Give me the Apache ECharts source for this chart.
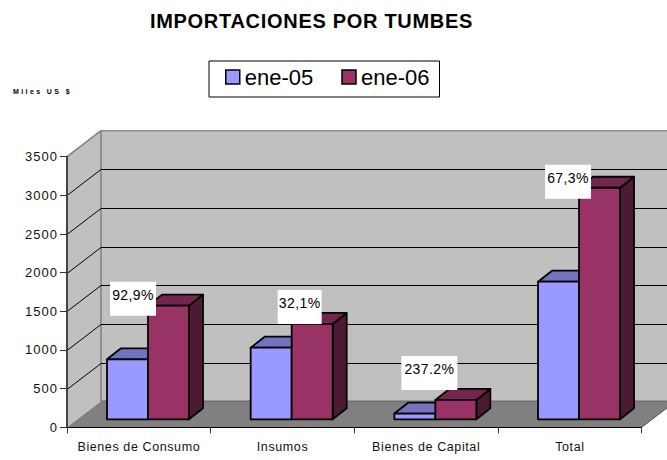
<!DOCTYPE html>
<html><head><meta charset="utf-8">
<style>html,body{margin:0;padding:0;background:#fff}#c{width:667px;height:460px}
#c text[style*="20px"]{letter-spacing:.7px}
#c text[style*="bold 7px"]{letter-spacing:2.4px}
#c text[style*=" 13px"]{letter-spacing:1px}
#c text[style*="12.5px"]{letter-spacing:.6px}
#c text[style*=" 14px"]{letter-spacing:.4px}
</style>
<script src="https://cdn.jsdelivr.net/npm/echarts@6/dist/echarts.min.js"></script>
</head><body><div id="c"></div>
<script>
const categories = ['Bienes de Consumo', 'Insumos', 'Bienes de Capital', 'Total'];
const ene05 = [776, 926, 74, 1780];
const ene06 = [1470, 1233, 250, 2995];
const growthLabels = ['92,9%', '32,1%', '237.2%', '67,3%'];
const yTicks = [500, 1000, 1500, 2000, 2500, 3000];

// appearance only
const FONT = '"Liberation Sans", Arial, sans-serif';
const DX = 34, DY = -26;            // wall depth
const BAR = {dx: 14, dy: -11, floorY: -8, start: 40, w: 41};
const labelBox = [
  {cx: -15, bottom: 10, w: 46}, {cx: 8, bottom: 0, w: 44},
  {cx: -6, bottom: -10, w: 56}, {cx: -11, bottom: 11, w: 46}
];
const H = 34;

function poly(points, fill, stroke, lw) {
  return {type: 'polygon', shape: {points}, style: {fill, stroke: stroke || 'none', lineWidth: lw || 0}};
}
function line(x1, y1, x2, y2, stroke, lw) {
  return {type: 'line', shape: {x1, y1, x2, y2}, style: {stroke, lineWidth: lw || 1, fill: 'none'}};
}

function renderWalls(params, api) {
  const cs = params.coordSys;
  const x0 = cs.x, x1 = cs.x + cs.width;
  const yB = cs.y + cs.height, yT = cs.y;
  const ch = [
    poly([[x0 + DX, yT + DY], [x1 + DX, yT + DY], [x1 + DX, yB + DY], [x0 + DX, yB + DY]], '#C0C0C0'),
    poly([[x0, yT], [x0 + DX, yT + DY], [x0 + DX, yB + DY], [x0, yB]], '#C0C0C0'),
    poly([[x0, yB], [x1, yB], [x1 + DX, yB + DY], [x0 + DX, yB + DY]], '#808080'),
    line(x0, yT, x0 + DX, yT + DY, '#808080', 1.5),
    line(x0 + DX, yT + DY, x1 + DX, yT + DY, '#909090', 1.5),
    line(x0 + DX, yT + DY, x0 + DX, yB + DY, '#808080', 1.5),
    line(x0 + DX, yB + DY, x1 + DX, yB + DY, '#707070', 1.5),
    line(x1, yB, x1 + DX, yB + DY, '#555', 1)
  ];
  yTicks.forEach(t => {
    const y = Math.round(api.coord([0, t])[1]) + 0.5;
    ch.push(line(x0, y, x0 + DX, y + DY, '#000', 1));
    ch.push(line(x0 + DX, y + DY, x1 + DX, y + DY, '#000', 1));
  });
  return {type: 'group', children: ch};
}

function barRender(offset, front, top, side) {
  return function (params, api) {
    const i = api.value(0), v = api.value(1);
    const band = api.size([1, 0])[0];
    const zero = api.coord([i, 0]);
    const left = zero[0] - band / 2 + BAR.start + offset * BAR.w;
    const right = left + BAR.w;
    const b = zero[1] + BAR.floorY;
    const t = api.coord([i, v])[1] + BAR.floorY;
    const st = {stroke: '#000', lineWidth: 1.8, lineJoin: 'round'};
    const p = (pts, fill) => ({type: 'polygon', shape: {points: pts}, style: Object.assign({fill}, st)});
    return {type: 'group', children: [
      p([[right, b], [right + BAR.dx, b + BAR.dy], [right + BAR.dx, t + BAR.dy], [right, t]], side),
      p([[left, t], [right, t], [right + BAR.dx, t + BAR.dy], [left + BAR.dx, t + BAR.dy]], top),
      p([[left, b], [right, b], [right, t], [left, t]], front)
    ]};
  };
}

function renderLabel(params, api) {
  const i = api.value(0), v = api.value(1);
  const k = params.dataIndex, box = labelBox[k];
  const band = api.size([1, 0])[0];
  const zero = api.coord([i, 0]);
  const barLeft = zero[0] - band / 2 + BAR.start + BAR.w;
  const top = api.coord([i, v])[1] + BAR.floorY + box.bottom - H;
  const cx = barLeft + box.cx;
  return {type: 'group', children: [
    {type: 'rect', shape: {x: cx - box.w / 2, y: top, width: box.w, height: H}, style: {fill: '#fff'}},
    {type: 'text', style: {x: cx, y: top + 13, text: growthLabels[k], align: 'center', verticalAlign: 'middle',
      fill: '#000', font: '14px ' + FONT}}
  ]};
}

const idx = categories.map((c, i) => i);
const chart = echarts.init(document.getElementById('c'), null, {renderer: 'svg'});
chart.setOption({
  animation: false,
  backgroundColor: '#fff',
  title: {text: 'IMPORTACIONES POR TUMBES', left: 306.5, top: 6, textAlign: 'center',
    textStyle: {fontFamily: FONT, fontWeight: 'bold', fontSize: 20, color: '#000'}},
  graphic: [{type: 'text', left: 13, top: 88, style: {text: 'Miles US $', fill: '#000', font: 'bold 7px ' + FONT}}],
  legend: {left: 209, top: 61, padding: [5, 10, 9, 16], itemWidth: 14, itemHeight: 14, itemGap: 28, borderColor: '#000', borderWidth: 1,
    textStyle: {fontFamily: FONT, fontSize: 22, color: '#000'},
    itemStyle: {borderColor: '#000', borderWidth: 1.5},
    data: [{name: 'ene-05', icon: 'rect'}, {name: 'ene-06', icon: 'rect'}]},
  grid: {left: 67, right: 25.3, top: 156.7, bottom: 32.7},
  xAxis: {type: 'category', data: categories, z: 5,
    axisLine: {lineStyle: {color: '#000', width: 1}},
    axisTick: {show: true, alignWithLabel: false, length: 6, lineStyle: {color: '#333'}},
    axisLabel: {interval: 0, margin: 13, fontFamily: FONT, fontSize: 12.5, color: '#111'}},
  yAxis: {type: 'value', min: 0, max: 3500, interval: 500, z: 5,
    axisLine: {show: true, lineStyle: {color: '#444', width: 2}},
    axisTick: {show: true, length: 7, lineStyle: {color: '#333'}},
    splitLine: {show: false},
    axisLabel: {margin: 9, fontFamily: FONT, fontSize: 13, color: '#111', formatter: v => String(v)}},
  series: [
    {type: 'custom', name: 'walls', silent: true, z: 1, data: [[0, 0]], encode: {x: 0, y: 1}, renderItem: renderWalls},
    {type: 'custom', name: 'ene-05', z: 2, itemStyle: {color: '#9999FF'}, encode: {x: 0, y: 1},
      data: idx.map(i => [i, ene05[i]]), renderItem: barRender(0, '#9999FF', '#7373BF', '#4D4D80')},
    {type: 'custom', name: 'ene-06', z: 3, itemStyle: {color: '#993366'}, encode: {x: 0, y: 1},
      data: idx.map(i => [i, ene06[i]]), renderItem: barRender(1, '#993366', '#73264C', '#4D1A33')},
    {type: 'custom', name: 'growth', z: 4, silent: true, encode: {x: 0, y: 1},
      data: idx.map(i => [i, ene06[i]]), renderItem: renderLabel}
  ]
});
</script></body></html>
